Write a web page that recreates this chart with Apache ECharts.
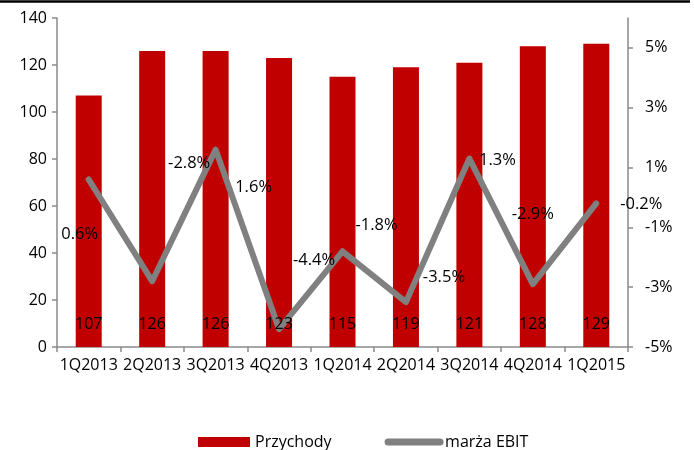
<!DOCTYPE html>
<html>
<head>
<meta charset="utf-8">
<script src="https://cdn.jsdelivr.net/npm/echarts@6/dist/echarts.min.js"></script>
<style>
  html, body { margin: 0; padding: 0; background: #fff; }
  #chart { width: 694px; height: 450px; }
</style>
</head>
<body>
<div id="chart"></div>
<script>
const categories = ['1Q2013', '2Q2013', '3Q2013', '4Q2013', '1Q2014', '2Q2014', '3Q2014', '4Q2014', '1Q2015'];
const revenue = [107, 126, 126, 123, 115, 119, 121, 128, 129];
const ebitMargin = [0.6, -2.8, 1.6, -4.4, -1.8, -3.5, 1.3, -2.9, -0.2];
const leftTicks = [0, 20, 40, 60, 80, 100, 120, 140];
const rightTicks = [-5, -3, -1, 1, 3, 5];

// label placement (style only)
const ebitLabelOffsets = [[-9, 55], [37, -118], [38, 38], [35, -69], [34, -26], [38, -25], [28, 2], [0, -70], [45, 1]];

const FONT = 'Open Sans';
const AXIS_COLOR = '#8a8a8a';

const chart = echarts.init(document.getElementById('chart'));
chart.setOption({
  animation: false,
  backgroundColor: '#fff',
  textStyle: { fontFamily: FONT },
  graphic: [{
    type: 'line',
    shape: { x1: 0, y1: 1.5, x2: 690, y2: 1.5 },
    style: { stroke: '#000', lineWidth: 2.5 }
  }],
  grid: { left: 57, right: 66, top: 18, bottom: 103 },
  legend: {
    left: 193,
    top: 429,
    itemWidth: 52,
    itemHeight: 10,
    itemGap: 53,
    textStyle: { fontFamily: FONT, fontSize: 16, color: '#000' },
    data: [
      { name: 'Przychody', icon: 'rect' },
      { name: 'marża EBIT', lineStyle: { width: 7, cap: 'round', color: '#808080' }, itemStyle: { opacity: 0 } }
    ]
  },
  xAxis: {
    type: 'category',
    data: categories,
    boundaryGap: true,
    axisLine: { lineStyle: { color: AXIS_COLOR, width: 1.5 } },
    axisTick: { show: true, length: 5, alignWithLabel: false, lineStyle: { color: AXIS_COLOR, width: 1.5 } },
    axisLabel: { color: '#000', fontSize: 16, fontFamily: FONT, margin: 10, interval: 0 },
    splitLine: { show: false }
  },
  yAxis: [{
    type: 'value',
    min: leftTicks[0],
    max: leftTicks[leftTicks.length - 1],
    interval: leftTicks[1] - leftTicks[0],
    axisLine: { show: true, lineStyle: { color: AXIS_COLOR, width: 1.5 } },
    axisTick: { show: true, length: 5, lineStyle: { color: AXIS_COLOR, width: 1.5 } },
    axisLabel: { color: '#000', fontSize: 16, fontFamily: FONT, margin: 10 },
    splitLine: { show: false }
  }, {
    type: 'value',
    position: 'right',
    min: -5,
    max: 6,
    interval: 2,
    axisLine: { show: true, lineStyle: { color: AXIS_COLOR, width: 1.5 } },
    axisTick: { show: true, length: 5, customValues: rightTicks, lineStyle: { color: AXIS_COLOR, width: 1.5 } },
    axisLabel: { color: '#000', fontSize: 16, fontFamily: FONT, margin: 17, customValues: rightTicks, formatter: v => v + '%' },
    splitLine: { show: false }
  }],
  series: [{
    name: 'Przychody',
    type: 'bar',
    yAxisIndex: 0,
    data: revenue,
    barWidth: '41%',
    itemStyle: { color: '#C00000' },
    z: 2
  }, {
    name: 'marża EBIT',
    type: 'line',
    yAxisIndex: 1,
    data: ebitMargin.map((v, i) => ({
      value: v,
      label: { offset: ebitLabelOffsets[i] }
    })),
    symbol: 'circle',
    symbolSize: 1,
    showSymbol: true,
    itemStyle: { color: '#808080' },
    lineStyle: { color: '#808080', width: 6, join: 'round', cap: 'round' },
    label: {
      show: true, position: 'inside', color: '#000', fontSize: 16.5, fontFamily: FONT,
      formatter: p => p.value.toFixed(1) + '%'
    },
    z: 3
  }, {
    name: 'Przychody-labels',
    type: 'bar',
    yAxisIndex: 0,
    data: revenue,
    barWidth: '41%',
    barGap: '-100%',
    silent: true,
    itemStyle: { color: 'rgba(0,0,0,0)' },
    label: { show: true, position: 'insideBottom', distance: 15, color: '#000', fontSize: 16, fontFamily: FONT },
    z: 4
  }]
});
</script>
</body>
</html>
